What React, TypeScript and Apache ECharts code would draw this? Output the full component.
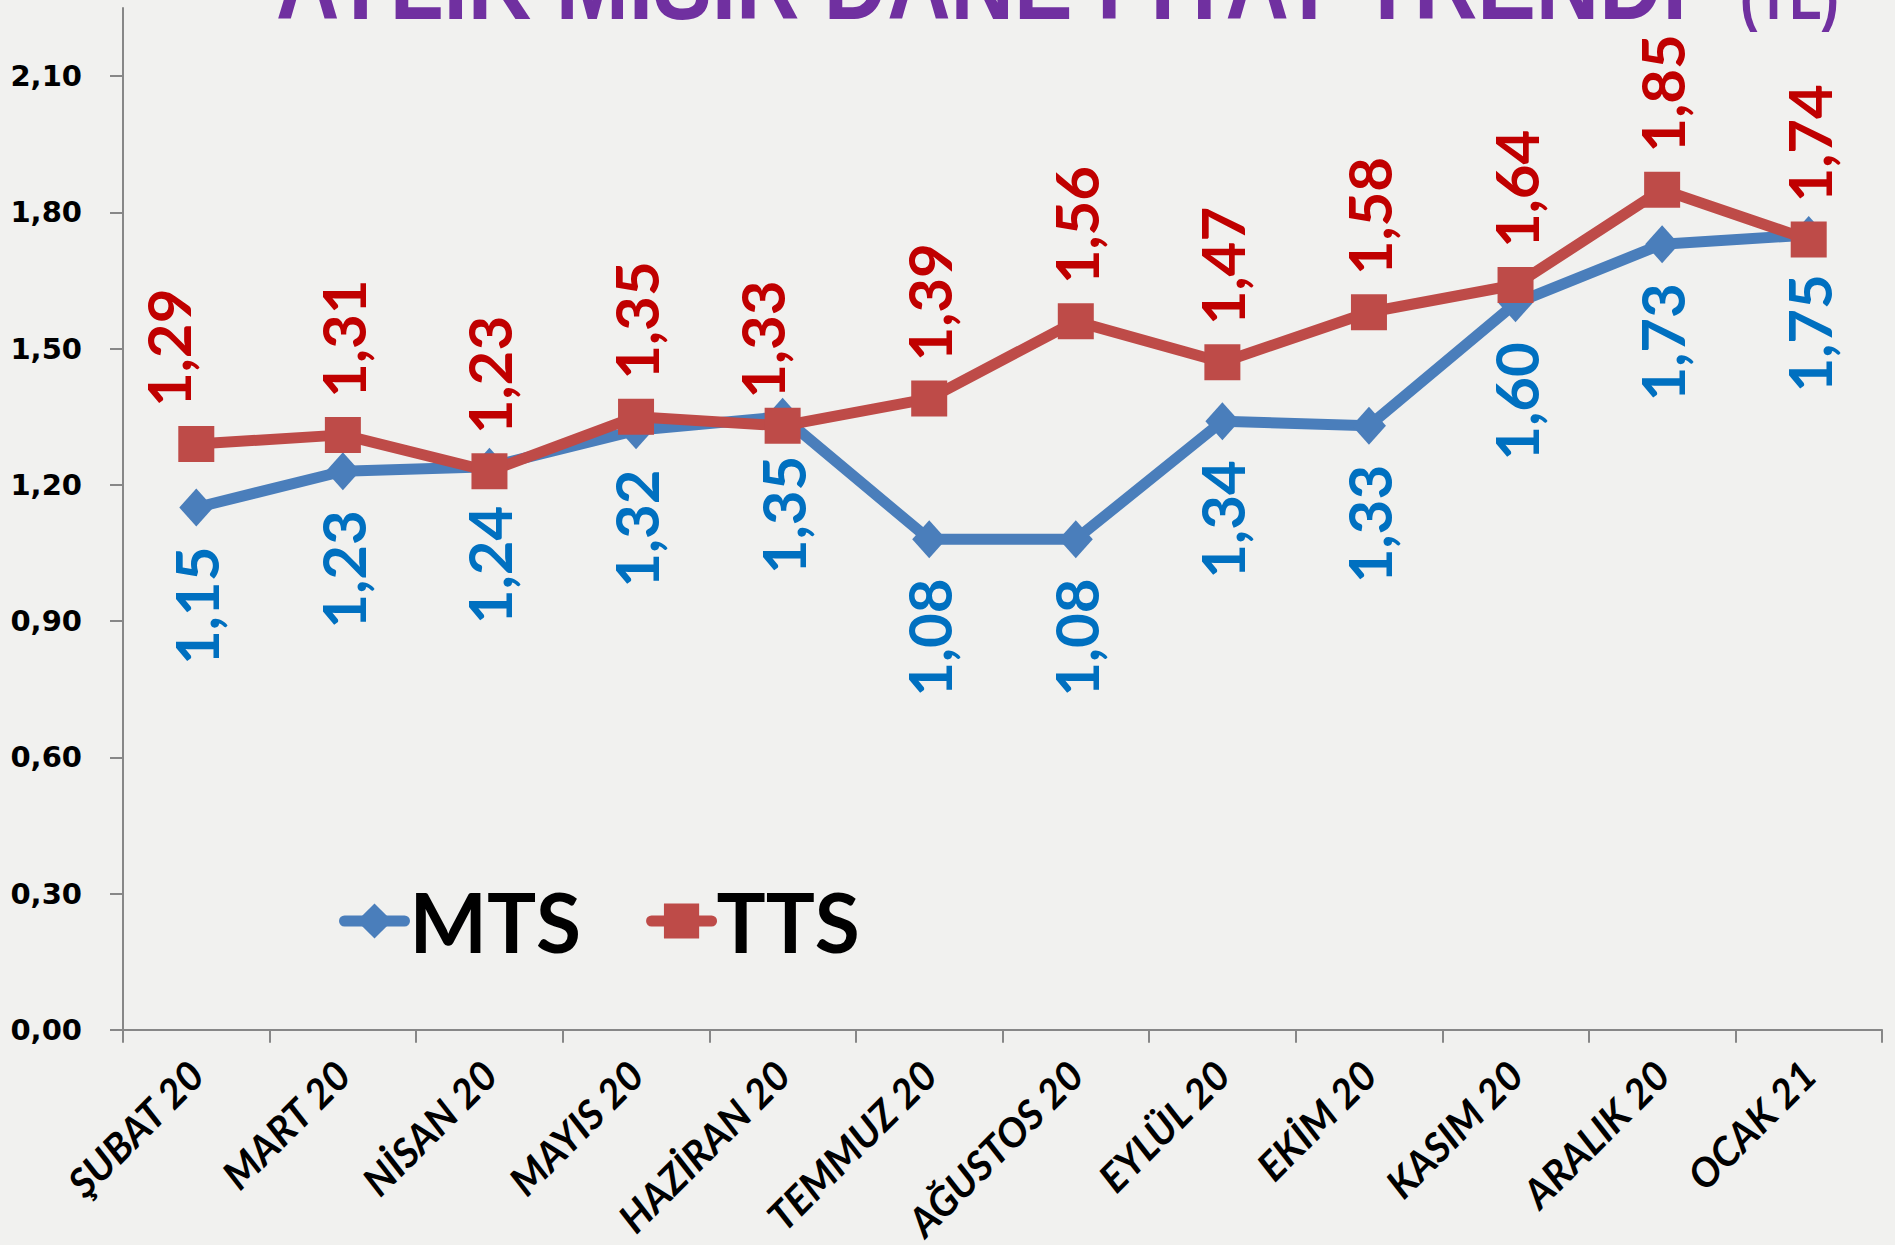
import React, { useEffect, useRef } from "react";
import * as echarts from "echarts";

const categories = [
  "ŞUBAT 20", "MART 20", "NİSAN 20", "MAYIS 20", "HAZİRAN 20", "TEMMUZ 20",
  "AĞUSTOS 20", "EYLÜL 20", "EKİM 20", "KASIM 20", "ARALIK 20", "OCAK 21",
];
const mtsValues = [1.15, 1.23, 1.24, 1.32, 1.35, 1.08, 1.08, 1.34, 1.33, 1.6, 1.73, 1.75];
const ttsValues = [1.29, 1.31, 1.23, 1.35, 1.33, 1.39, 1.56, 1.47, 1.58, 1.64, 1.85, 1.74];
const yTickValues = [0, 0.3, 0.6, 0.9, 1.2, 1.5, 1.8, 2.1];
const seriesNames = ["MTS", "TTS"];
const titleMain = "AYLIK MISIR DANE FİYAT TRENDİ";
const titleUnit = "(TL)";

const fmt = (v: number) => v.toFixed(2).replace(".", ",");

// manual label nudges (label-local frame, text rotated 90°)
const ttsLabelNudge: Record<number, number[]> = { 0: [0, -28], 4: [-10, -21] };

export default function App() {
  const ref = useRef<HTMLDivElement>(null);
  useEffect(() => {
    if (!ref.current) return;
    const chart = echarts.init(ref.current, null, { renderer: "svg" });
    const axisColor = "#878787";
    const labelFont = "Lato";
    const titleShadow = {
      shadowColor: "rgba(40,20,60,0.45)",
      shadowOffsetX: 2,
      shadowOffsetY: 3,
      shadowBlur: 2,
    };
    chart.setOption({
      animation: false,
      backgroundColor: "#f1f1ef",
      graphic: [
        {
          type: "text",
          x: 276,
          y: -17,
          scaleX: 0.836,
          style: {
            text: titleMain,
            font: 'bold 105px "Liberation Sans"',
            fill: "#7030A0",
            align: "left",
            verticalAlign: "middle",
            ...titleShadow,
          },
        },
        {
          type: "text",
          x: 1740,
          y: -3,
          scaleX: 0.82,
          style: {
            text: titleUnit,
            font: 'bold 64px "Liberation Sans"',
            fill: "#7030A0",
            align: "left",
            verticalAlign: "middle",
            ...titleShadow,
          },
        },
      ],
      legend: {
        left: 334,
        top: 875,
        itemWidth: 60,
        itemHeight: 44,
        itemGap: 65,
        lineStyle: { width: 11, cap: "round" },
        textStyle: { fontSize: 82, fontWeight: "bold", fontFamily: labelFont, color: "#000" },
        data: seriesNames,
      },
      grid: { left: 123, right: 13, top: 8, bottom: 214, containLabel: false },
      xAxis: {
        type: "category",
        data: categories,
        boundaryGap: true,
        axisLine: { show: true, lineStyle: { color: axisColor, width: 2 } },
        axisTick: { show: true, length: 13, interval: 0, alignWithLabel: false, lineStyle: { color: axisColor, width: 2 } },
        axisLabel: {
          interval: 0,
          rotate: 45,
          margin: 38,
          color: "#000",
          fontFamily: labelFont,
          fontStyle: "italic",
          fontWeight: "bold",
          fontSize: 40,
        },
        splitLine: { show: false },
      },
      yAxis: {
        type: "value",
        min: 0,
        max: 2.25,
        axisLine: { show: true, lineStyle: { color: axisColor, width: 2 } },
        axisTick: { show: true, length: 13, customValues: yTickValues, lineStyle: { color: axisColor, width: 2 } },
        axisLabel: {
          customValues: yTickValues,
          formatter: (v: number) => fmt(v),
          margin: 41,
          color: "#000",
          fontFamily: "DejaVu Sans",
          fontWeight: "bold",
          fontSize: 29,
        },
        splitLine: { show: false },
      },
      series: [
        {
          name: seriesNames[0],
          type: "line",
          data: mtsValues,
          symbol: "diamond",
          symbolSize: [34, 38],
          lineStyle: { color: "#4A7EBB", width: 11 },
          itemStyle: { color: "#4A7EBB" },
          label: {
            show: true,
            position: "bottom",
            distance: 20,
            rotate: 90,
            align: "right",
            verticalAlign: "middle",
            formatter: (p: any) => fmt(p.value),
            color: "#0070C0",
            fontFamily: labelFont,
            fontWeight: "bold",
            fontSize: 60,
          },
          z: 2,
        },
        {
          name: seriesNames[1],
          type: "line",
          data: ttsValues.map((v, i) =>
            ttsLabelNudge[i] ? { value: v, label: { offset: ttsLabelNudge[i] } } : v
          ),
          symbol: "rect",
          symbolSize: 36,
          lineStyle: { color: "#BE4B48", width: 11 },
          itemStyle: { color: "#BE4B48" },
          label: {
            show: true,
            position: "top",
            distance: 19,
            rotate: 90,
            align: "left",
            verticalAlign: "middle",
            formatter: (p: any) => fmt(p.value),
            color: "#C00000",
            fontFamily: labelFont,
            fontWeight: "bold",
            fontSize: 60,
          },
          z: 3,
        },
      ],
    });
    return () => chart.dispose();
  }, []);
  return (
    <div
      ref={ref}
      style={{ position: "fixed", left: 0, top: 0, width: 1895, height: 1245 }}
    />
  );
}
